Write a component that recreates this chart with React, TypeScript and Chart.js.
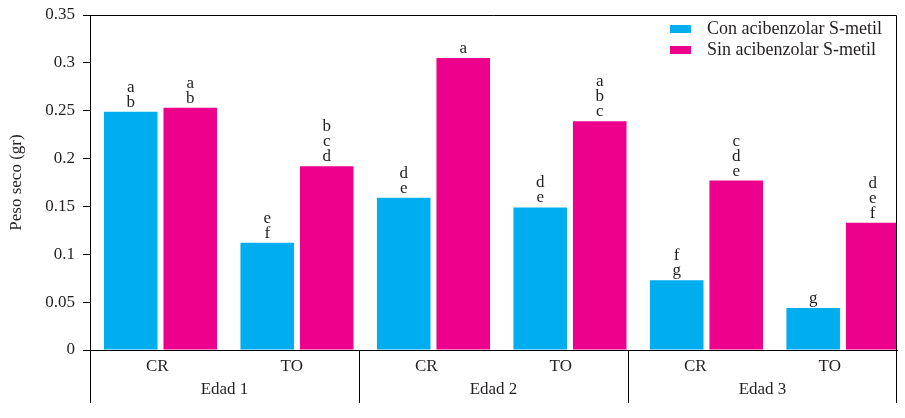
import React, { useEffect, useRef } from "react";
import { Chart, registerables } from "chart.js";

Chart.register(...registerables);

const categories = ["CR", "TO", "CR", "TO", "CR", "TO"];
const groups = ["Edad 1", "Edad 2", "Edad 3"];
const seriesNames = ["Con acibenzolar S-metil", "Sin acibenzolar S-metil"];
const conValues = [0.249, 0.112, 0.159, 0.149, 0.073, 0.044];
const sinValues = [0.253, 0.192, 0.305, 0.239, 0.177, 0.133];
const conLetters = [["a", "b"], ["e", "f"], ["d", "e"], ["d", "e"], ["f", "g"], ["g"]];
const sinLetters = [["a", "b"], ["b", "c", "d"], ["a"], ["a", "b", "c"], ["c", "d", "e"], ["d", "e", "f"]];
const yTicks = [0, 0.05, 0.1, 0.15, 0.2, 0.25, 0.3, 0.35];
const yTickLabels = ["0", "0.05", "0.1", "0.15", "0.2", "0.25", "0.3", "0.35"];
const yTitle = "Peso seco (gr)";

// bar index axis range (the original plot's bar grid runs slightly past the frame)
const BAR_AXIS_MIN = -0.5165;
const BAR_AXIS_MAX = 5.396;

const CYAN = "#00aeef";
const MAGENTA = "#ec008c";
const TEXT = "#231f20";
const FONT = '"Liberation Serif", "Times New Roman", serif';

const decorPlugin = {
  id: "decor",
  afterDatasetsDraw(chart: any) {
    const ctx = chart.ctx;
    ctx.save();
    ctx.font = `17px ${FONT}`;
    ctx.fillStyle = TEXT;
    ctx.textAlign = "center";
    ctx.textBaseline = "alphabetic";
    [conLetters, sinLetters].forEach((letters, di) => {
      const meta = chart.getDatasetMeta(di);
      meta.data.forEach((bar: any, i: number) => {
        const lines = letters[i] || [];
        lines.forEach((t: string, k: number) => {
          const y = bar.y - 5 - (lines.length - 1 - k) * 15;
          ctx.fillText(t, bar.x, y);
        });
      });
    });
    ctx.restore();
  },
  afterDraw(chart: any) {
    const ctx = chart.ctx;
    const area = chart.chartArea;
    const xs = chart.scales.x2;
    ctx.save();
    ctx.strokeStyle = "#000";
    ctx.lineWidth = 1;
    const top = Math.round(area.top) + 0.5;
    const right = Math.round(area.right) - 0.5;
    ctx.beginPath();
    ctx.moveTo(area.left, top);
    ctx.lineTo(right, top);
    ctx.lineTo(right, Math.round(area.bottom) + 0.5);
    ctx.stroke();
    const step = xs.getPixelForValue(1) - xs.getPixelForValue(0);
    const sepBottom = area.bottom + 53;
    for (let g = 0; g <= groups.length; g++) {
      let x = xs.getPixelForValue(2 * g) - step / 2;
      x = Math.round(x) + 0.5;
      if (g === groups.length) x = right;
      ctx.beginPath();
      ctx.moveTo(x, area.bottom);
      ctx.lineTo(x, sepBottom);
      ctx.stroke();
    }
    ctx.font = `17px ${FONT}`;
    ctx.fillStyle = TEXT;
    ctx.textAlign = "center";
    ctx.textBaseline = "middle";
    groups.forEach((g, i) => {
      const x = (xs.getPixelForValue(2 * i) + xs.getPixelForValue(2 * i + 1)) / 2;
      ctx.fillText(g, x, area.bottom + 40);
    });
    const lx = area.right - 227;
    const colors = [CYAN, MAGENTA];
    ctx.font = `18px ${FONT}`;
    ctx.textAlign = "left";
    seriesNames.forEach((name, i) => {
      const cy = area.top + 14 + i * 21;
      ctx.fillStyle = colors[i];
      ctx.fillRect(lx, cy - 4, 21, 8);
      ctx.fillStyle = TEXT;
      ctx.fillText(name, lx + 37, cy);
    });
    ctx.restore();
  },
};

export default function App() {
  const ref = useRef<HTMLCanvasElement | null>(null);
  useEffect(() => {
    if (!ref.current) return;
    const chart = new Chart(ref.current, {
      type: "bar",
      data: {
        labels: categories,
        datasets: [
          {
            label: seriesNames[0],
            data: conValues.map((v, i) => ({ x: i, y: v })),
            backgroundColor: CYAN,
            borderWidth: 0,
            xAxisID: "x",
            yAxisID: "y",
          },
          {
            label: seriesNames[1],
            data: sinValues.map((v, i) => ({ x: i, y: v })),
            backgroundColor: MAGENTA,
            borderWidth: 0,
            xAxisID: "x",
            yAxisID: "y",
          },
        ],
      },
      options: {
        responsive: false,
        maintainAspectRatio: false,
        animation: false,
        devicePixelRatio: 1,
        categoryPercentage: 0.872,
        barPercentage: 0.9,
        layout: { padding: { top: 15, right: 8, left: 0, bottom: 0 } },
        plugins: {
          legend: { display: false },
          tooltip: { enabled: false },
        },
        scales: {
          x: {
            type: "linear",
            display: false,
            offset: false,
            bounds: "data",
            grace: 0,
            afterDataLimits: (s: any) => {
              s.min = BAR_AXIS_MIN;
              s.max = BAR_AXIS_MAX;
            },
            afterBuildTicks: (s: any) => {
              s.ticks = categories.map((_, i) => ({ value: i }));
              s.min = BAR_AXIS_MIN;
              s.max = BAR_AXIS_MAX;
            },
          },
          x2: {
            type: "category",
            position: "bottom",
            labels: categories,
            offset: true,
            grid: { display: false, drawTicks: false },
            border: { display: true, color: "#000", width: 1 },
            ticks: {
              font: { family: FONT, size: 17 },
              color: TEXT,
              padding: 6,
              maxRotation: 0,
              autoSkip: false,
            },
            afterFit: (s: any) => {
              s.height = 68;
            },
          },
          y: {
            type: "linear",
            min: 0,
            max: 0.35,
            afterBuildTicks: (s: any) => {
              s.ticks = yTicks.map((v) => ({ value: v }));
            },
            ticks: {
              font: { family: FONT, size: 17 },
              color: TEXT,
              padding: 8,
              callback: (_v: any, i: number) => yTickLabels[i],
            },
            grid: {
              display: true,
              drawOnChartArea: false,
              drawTicks: true,
              tickLength: 7,
              color: "#000",
            },
            border: { display: true, color: "#000", width: 1 },
            title: {
              display: true,
              text: yTitle,
              font: { family: FONT, size: 17 },
              color: TEXT,
              padding: { top: 6, bottom: 0 },
            },
            afterFit: (s: any) => {
              s.width = 90;
              s.paddingTop = 0;
              s.paddingBottom = 0;
            },
          },
        },
      } as any,
      plugins: [decorPlugin],
    });
    return () => chart.destroy();
  }, []);
  return (
    <div style={{ position: "fixed", left: 0, top: 0, width: 905, height: 418, background: "#fff" }}>
      <canvas ref={ref} width={905} height={418} style={{ width: 905, height: 418, display: "block" }} />
    </div>
  );
}
